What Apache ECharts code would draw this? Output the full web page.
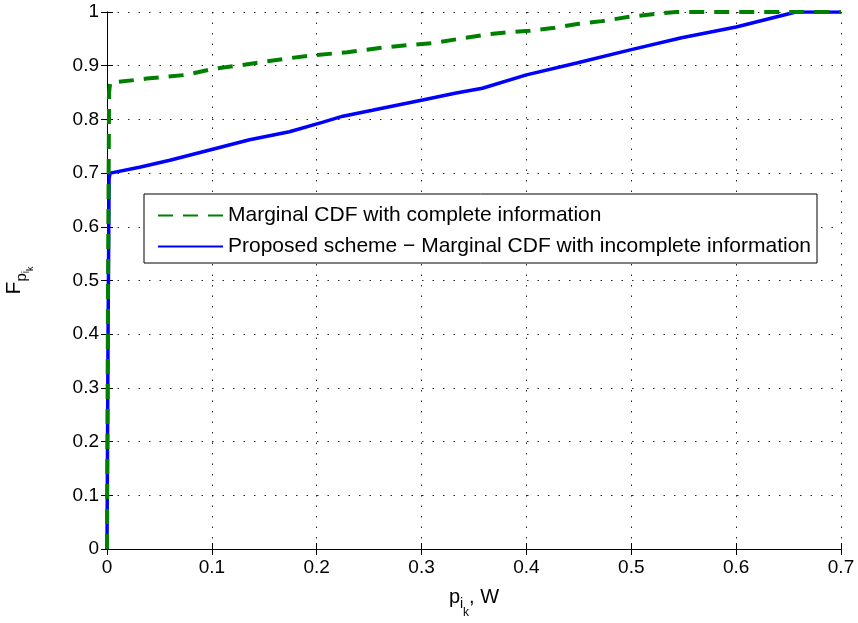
<!DOCTYPE html>
<html><head><meta charset="utf-8">
<script src="https://cdn.jsdelivr.net/npm/echarts@6/dist/echarts.min.js"></script>
<style>html,body{margin:0;padding:0;background:#fff}#c{width:858px;height:623px}</style>
</head><body><div id="c"></div>
<script>
var xTicks = [0, 0.1, 0.2, 0.3, 0.4, 0.5, 0.6, 0.7];
var yTicks = [0, 0.1, 0.2, 0.3, 0.4, 0.5, 0.6, 0.7, 0.8, 0.9, 1];
var completeX = [0, 0.001, 0.002, 0.003, 0.038, 0.076, 0.101, 0.124, 0.149, 0.174, 0.2, 0.229, 0.26, 0.286, 0.31, 0.336, 0.365, 0.381, 0.403, 0.425, 0.45, 0.472, 0.498, 0.52, 0.543, 0.6, 0.7];
var completeY = [0, 0.5, 0.85, 0.868, 0.876, 0.883, 0.894, 0.9, 0.907, 0.914, 0.92, 0.925, 0.933, 0.938, 0.942, 0.95, 0.959, 0.962, 0.965, 0.97, 0.978, 0.983, 0.991, 0.996, 1.0, 1.0, 1.0];
var incompleteX = [0, 0.001, 0.002, 0.003, 0.031, 0.06, 0.098, 0.136, 0.174, 0.206, 0.225, 0.253, 0.301, 0.333, 0.358, 0.4, 0.448, 0.498, 0.548, 0.6, 0.657, 0.7];
var incompleteY = [0, 0.4, 0.69, 0.7, 0.711, 0.724, 0.743, 0.762, 0.777, 0.795, 0.806, 0.817, 0.836, 0.849, 0.858, 0.883, 0.905, 0.929, 0.952, 0.972, 1.0, 1.0];
var seriesNames = ['Marginal CDF with complete information', 'Proposed scheme \u2212 Marginal CDF with incomplete information'];

function pairs(xs, ys){ return xs.map(function(x,i){ return [x, ys[i]]; }); }
var font = 'Liberation Sans, Arial, Helvetica, sans-serif';
var chart = echarts.init(document.getElementById('c'), null, {renderer:'canvas'});
var gridLine = {show:true, lineStyle:{color:'#000', type:[1.5,9], width:1, opacity:0.85}};
var axisLbl = {fontSize:19, color:'#000', fontFamily:font};
function fmt(v){ return String(+v.toFixed(1)); }
chart.setOption({
  animation:false,
  backgroundColor:'#fff',
  grid:{left:107, top:12, right:17, bottom:74, containLabel:false, outerBoundsMode:'none'},
  legend:{
    orient:'vertical', left:144, top:194,
    data:seriesNames,
    itemWidth:65, itemHeight:14, itemGap:10,
    padding:[11,6,6,13],
    borderColor:'#000', borderWidth:1, backgroundColor:'#fff',
    itemStyle:{opacity:0},
    textStyle:{fontSize:21, color:'#000', fontFamily:font}
  },
  xAxis:[{
    type:'value', min:0, max:0.7, interval:0.1,
    axisLine:{lineStyle:{color:'#000', width:1}},
    axisTick:{inside:true, length:6, lineStyle:{color:'#000'}},
    axisLabel:Object.assign({margin:9, formatter:fmt}, axisLbl),
    splitLine:gridLine,
    name:'{a|p}{s|i}{t|k}{a|, W}', nameLocation:'middle', nameGap:38,
    nameTextStyle:{fontFamily:font, color:'#000', rich:{
      a:{fontSize:20, fontFamily:font, color:'#000', verticalAlign:'top'},
      s:{fontSize:14, fontFamily:font, color:'#000', verticalAlign:'top', padding:[10,0,0,0]},
      t:{fontSize:12, fontFamily:font, color:'#000', verticalAlign:'top', padding:[20,0,0,0]}
    }}
  },{
    type:'value', position:'top', min:0, max:0.7, interval:0.1,
    axisLine:{show:true, lineStyle:{color:'#000'}},
    axisTick:{inside:true, length:6, lineStyle:{color:'#000'}},
    axisLabel:{show:false}, splitLine:{show:false}
  }],
  yAxis:[{
    type:'value', min:0, max:1, interval:0.1,
    axisLine:{show:true, lineStyle:{color:'#000', width:1}},
    axisTick:{show:true, inside:true, length:6, lineStyle:{color:'#000'}},
    axisLabel:Object.assign({margin:8, formatter:fmt}, axisLbl),
    splitLine:gridLine,
    name:'{a|F}{s|p}{t|i}{u|k}', nameLocation:'middle', nameGap:72, nameRotate:90,
    nameTextStyle:{fontFamily:font, color:'#000', rich:{
      a:{fontSize:21, fontFamily:font, color:'#000', verticalAlign:'top'},
      s:{fontSize:15, fontFamily:font, color:'#000', verticalAlign:'top', padding:[10,0,0,0]},
      t:{fontSize:10, fontFamily:font, color:'#000', verticalAlign:'top', padding:[17,0,0,0]},
      u:{fontSize:9, fontFamily:font, color:'#000', verticalAlign:'top', padding:[22,0,0,0]}
    }}
  },{
    type:'value', position:'right', min:0, max:1, interval:0.1,
    axisLine:{show:true, lineStyle:{color:'#000'}},
    axisTick:{show:true, inside:true, length:6, lineStyle:{color:'#000'}},
    axisLabel:{show:false}, splitLine:{show:false}
  }],
  series:[{
    name:seriesNames[0], type:'line', symbol:'none', smooth:false,
    data:pairs(completeX, completeY),
    lineStyle:{color:'#008000', width:4, type:[15,10]},
    itemStyle:{color:'#008000'}, z:3
  },{
    name:seriesNames[1], type:'line', symbol:'none', smooth:false,
    data:pairs(incompleteX, incompleteY),
    lineStyle:{color:'#0000ff', width:3.5, type:'solid'},
    itemStyle:{color:'#0000ff'}, z:2
  }]
});
</script></body></html>
